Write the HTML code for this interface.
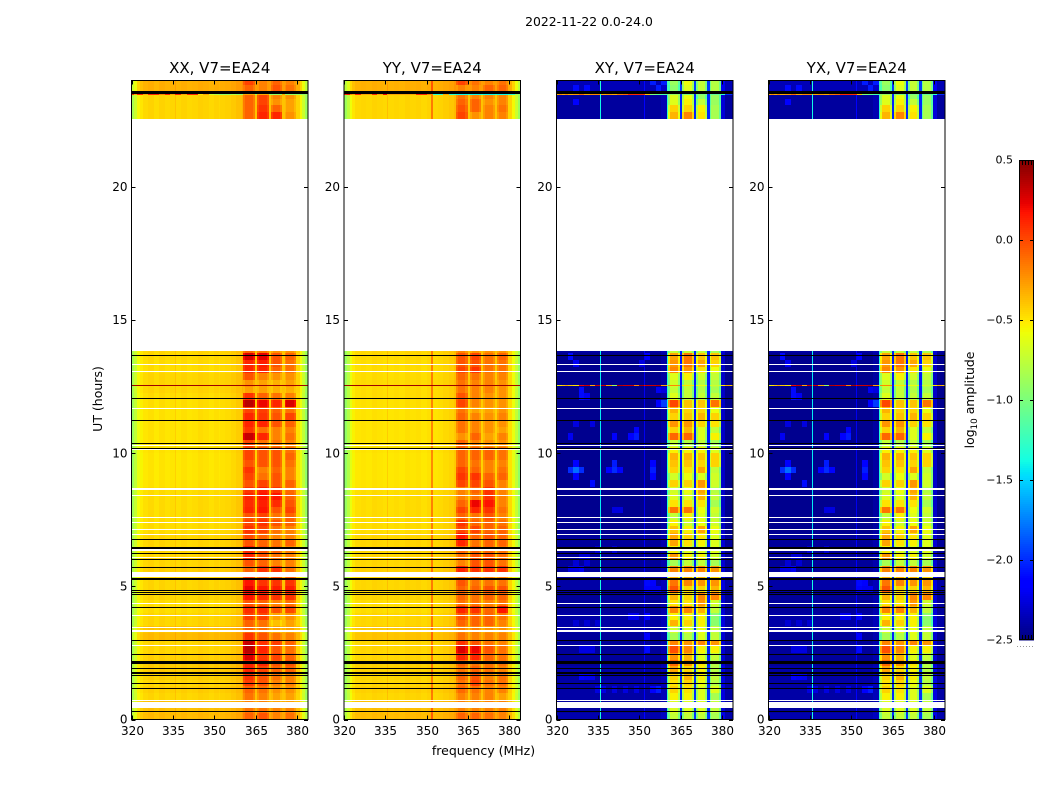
<!DOCTYPE html>
<html>
<head>
<meta charset="utf-8">
<title>2022-11-22 0.0-24.0</title>
<style>
html,body{margin:0;padding:0;background:#fff;}
svg{display:block;font-family:"DejaVu Sans","Liberation Sans",sans-serif;fill:#000;}
</style>
</head>
<body>
<svg id="chart" xmlns="http://www.w3.org/2000/svg" width="1050" height="800" viewBox="0 0 1050 800">
<text x="589" y="26" font-size="12.4" text-anchor="middle">2022-11-22 0.0-24.0</text>
<text x="483.5" y="755" font-size="12.5" text-anchor="middle">frequency (MHz)</text>
<text x="102" y="399" font-size="12.5" text-anchor="middle" transform="rotate(-90 102 399)">UT (hours)</text>
<text x="974" y="400" font-size="12.4" text-anchor="middle" transform="rotate(-90 974 400)">log<tspan font-size="8.8" dy="3">10</tspan><tspan dy="-3"> amplitude</tspan></text>
<g id="panels"></g>
<g id="colorbar"></g>
</svg>
<script>
// Axis ticks
const freqTicks = [320, 335, 350, 365, 380];
const timeTicks = [0, 5, 10, 15, 20];
const colorTicks = [0.5, 0.0, -0.5, -1.0, -1.5, -2.0, -2.5];
const colorTickLabels = ['0.5', '0.0', '\u22120.5', '\u22121.0', '\u22121.5', '\u22122.0', '\u22122.5'];

// Frequency channels (MHz); band: 0 = background, 1-4 = sub-bands
const channelStartMHz = [320,321,322,323,324,326,328,330,332,334,335.7,336.1,338,340,342,344,346,348,350,351.7,352.1,354,356,358,360,360.5,361.2,364,364.8,365.6,366.3,369,369.7,370.5,371.2,374,374.7,375.5,376.2,378.9,379.6,381,382,383];
const channelEndMHz = [321,322,323,324,326,328,330,332,334,335.7,336.1,338,340,342,344,346,348,350,351.7,352.1,354,356,358,360,360.5,361.2,364,364.8,365.6,366.3,369,369.7,370.5,371.2,374,374.7,375.5,376.2,378.9,379.6,381,382,383,384];
const channelBand = [0,0,0,0,0,0,0,0,0,0,0,0,0,0,0,0,0,0,0,0,0,0,0,0,0,1,1,1,0,2,2,2,0,3,3,3,0,4,4,4,0,0,0,0];

// Per-channel amplitude offsets relative to the row's value
const xxChannelOffset = [-.42,-.29,-.14,-.08,-.04,-.02,-.05,-.02,-.04,-.03,.03,-.04,-.02,-.04,-.03,-.01,-.02,-.04,-.02,-.04,-.02,-.01,.01,.04,.08,-.06,.02,-.06,.03,-.06,.02,-.06,.03,-.06,.02,-.06,.03,-.06,.02,-.06,-.02,-.14,-.29,-.46];
const yyChannelOffset = [-.46,-.34,-.16,-.08,-.04,-.03,-.04,-.02,-.03,-.04,.04,-.04,-.03,-.04,-.02,-.03,-.02,-.04,-.02,.26,-.03,-.02,0,.02,.06,-.06,.02,-.06,.03,-.06,.02,-.06,.03,-.06,.02,-.06,.03,-.06,.02,-.06,-.02,-.14,-.29,-.46];
const xyChannelOffset = [-.08,-.08,-.08,-.08,-.08,-.08,-.08,-.08,-.08,-.08,.95,-.08,-.08,-.08,-.08,-.08,-.08,-.08,-.08,.17,-.08,-.08,-.08,-.03,1.05,-.2,.06,-.2,.32,-.2,.06,-.2,.32,-.2,.06,-.2,.32,-.2,.06,-.2,.07,-.08,-.08,-.08];

// Time rows: [background, sub-band 1, 2, 3, 4] log10 amplitude
const rowStartUT = [0,.25,.5,.75,1,1.25,1.5,1.75,2,2.25,2.5,2.75,3,3.25,3.5,3.75,4,4.25,4.5,4.75,5,5.25,5.5,5.75,6,6.25,6.5,6.75,7,7.25,7.5,7.75,8,8.25,8.5,8.75,9,9.25,9.5,9.75,10,10.25,10.5,10.75,11,11.25,11.5,11.75,12,12.25,12.5,12.75,13,13.25,13.5,13.75,22.57,22.82,23.07,23.32,23.57,23.82];
const rowEndUT = [.25,.5,.75,1,1.25,1.5,1.75,2,2.25,2.5,2.75,3,3.25,3.5,3.75,4,4.25,4.5,4.75,5,5.25,5.5,5.75,6,6.25,6.5,6.75,7,7.25,7.5,7.75,8,8.25,8.5,8.75,9,9.25,9.5,9.75,10,10.25,10.5,10.75,11,11.25,11.5,11.75,12,12.25,12.5,12.75,13,13.25,13.5,13.75,13.84,22.82,23.07,23.32,23.57,23.82,24];

const xxRows = [
[-.33,-.1,-.05,-.2,-.15],[-.35,-.15,-.15,-.2,-.2],[-.35,-.2,-.2,-.3,-.3],[-.42,-.15,-.2,-.3,-.3],[-.4,-.1,-.15,-.25,-.25],[-.42,.02,-.05,-.2,-.2],[-.4,.05,-.05,-.15,-.2],[-.38,.1,0,-.1,-.1],[-.38,.1,.1,-.05,-.05],[-.4,.25,.05,0,-.1],[-.42,.33,.1,-.05,-.15],[-.42,.3,.05,.02,-.1],
[-.33,.05,-.05,-.15,-.2],[-.36,-.1,-.15,-.3,-.3],[-.42,-.1,-.15,-.4,-.3],[-.42,.02,0,-.3,-.25],[-.44,.08,.08,-.05,-.02],[-.44,-.05,-.1,-.2,-.15],[-.42,.15,.1,.05,.05],[-.42,.2,.15,.12,.12],[-.42,.15,.05,.05,.05],[-.42,0,-.1,-.05,-.1],[-.4,-.1,.05,.05,-.15],[-.42,-.05,-.1,-.2,-.2],
[-.42,.1,-.05,-.15,-.2],[-.42,.1,-.05,-.1,-.2],[-.42,-.05,-.1,-.15,-.1],[-.42,-.02,-.1,-.2,-.2],[-.44,.05,0,-.15,-.2],[-.44,0,.05,-.05,-.1],[-.44,-.05,0,-.15,-.1],[-.44,.1,.15,-.05,0],[-.44,.08,.12,.08,-.05],[-.44,.1,.15,.15,-.1],[-.44,.05,.12,.05,-.12],[-.46,-.05,0,-.05,-.1],
[-.47,0,-.15,-.05,-.2],[-.47,.05,-.2,-.1,-.2],[-.47,-.05,-.05,-.05,-.15],[-.47,0,-.05,-.05,-.1],[-.46,0,-.05,-.05,-.15],[-.46,0,-.15,-.15,-.2],[-.46,.3,.1,-.2,-.15],[-.46,.05,-.15,-.2,-.2],[-.46,.1,.1,-.05,-.1],[-.46,.1,.05,-.05,0],[-.46,0,.02,-.1,-.15],[-.45,.33,.2,.1,.25],
[-.44,.05,-.1,-.15,-.2],[-.42,-.3,-.3,-.35,-.35],[-.42,-.25,-.3,-.35,-.3],[-.42,-.05,-.2,-.25,-.25],[-.44,.1,.1,-.1,-.15],[-.44,.1,.12,-.05,-.15],[-.43,.25,.22,-.05,-.1],[-.42,-.1,-.15,-.25,-.25],
[-.42,-.1,.1,.1,-.25],[-.42,-.1,.05,-.1,-.3],[-.42,-.1,0,-.25,-.3],[-.42,-.1,0,-.2,-.25],[-.3,-.1,-.2,-.05,-.15],[-.3,0,-.2,-.1,-.2]
];
const yyRows = [
[-.33,-.1,-.1,-.15,-.2],[-.35,-.2,-.2,-.2,-.2],[-.35,-.2,-.2,-.2,-.2],[-.42,-.2,-.2,-.2,-.3],[-.4,-.12,-.15,-.2,-.2],[-.42,-.15,0,-.15,-.15],[-.42,-.1,-.05,-.2,-.15],[-.4,-.15,-.1,-.15,-.2],[-.4,-.1,-.15,-.15,-.15],[-.42,.1,.1,-.1,-.15],[-.42,.25,.2,-.05,-.15],[-.42,.05,-.05,-.15,-.2],
[-.36,-.15,-.2,-.2,-.2],[-.38,-.2,-.2,-.25,-.25],[-.42,-.1,-.1,-.1,-.2],[-.42,-.05,-.1,-.1,-.15],[-.44,.1,.05,-.1,.15],[-.44,-.15,-.15,-.2,-.15],[-.42,-.1,-.15,-.1,-.1],[-.42,-.1,-.1,-.05,-.05],[-.42,-.05,-.15,-.15,-.15],[-.42,-.2,-.15,-.2,-.2],[-.4,.1,.05,.05,.05],[-.42,-.2,-.05,-.05,-.15],
[-.42,-.15,-.05,-.05,-.15],[-.42,-.1,-.1,-.1,-.15],[-.42,.1,-.15,-.1,-.1],[-.42,.15,-.1,-.05,-.1],[-.44,0,0,-.1,-.1],[-.44,.05,-.1,-.1,-.15],[-.44,-.1,-.15,-.05,-.2],[-.44,0,.1,.05,-.15],[-.44,-.1,.2,.15,-.2],[-.44,-.2,-.15,.05,-.2],[-.44,-.2,-.1,.05,-.2],[-.46,0,0,-.05,-.2],
[-.47,.05,.05,-.1,-.1],[-.47,0,-.1,-.2,-.15],[-.47,-.1,-.15,-.2,-.2],[-.47,-.1,-.1,-.1,-.15],[-.46,-.1,-.1,-.1,-.15],[-.46,-.1,-.2,-.25,-.25],[-.46,-.25,-.1,-.3,-.2],[-.46,-.15,-.2,-.25,-.3],[-.46,-.15,-.2,-.25,-.25],[-.46,-.1,-.2,-.25,-.2],[-.46,-.15,-.3,-.3,-.25],[-.45,0,-.2,-.25,-.25],
[-.44,-.05,-.2,-.25,-.25],[-.44,-.15,-.2,-.2,-.25],[-.43,-.15,-.2,-.2,-.25],[-.44,-.1,-.15,-.2,-.2],[-.44,0,.05,-.15,-.15],[-.44,-.05,-.05,-.15,-.15],[-.43,-.05,0,-.15,-.1],[-.42,-.2,-.25,-.25,-.25],
[-.42,0,-.25,-.2,-.2],[-.42,-.05,-.1,-.2,-.15],[-.42,-.1,-.1,-.25,-.2],[-.42,-.15,-.2,-.2,-.2],[-.3,-.2,-.2,-.1,-.1],[-.3,0,-.15,-.2,-.15]
];
const xyRows = [
[-2.3,-.8,-.8,-.8,-.9],[-2.34,-.7,-.7,-.7,-.8],[-2.34,-.7,-.7,-.7,-.8],[-2.32,-.6,-.6,-.7,-.9],[-2.32,-.5,-.55,-.7,-.7],[-2.32,-.55,-.5,-.65,-.85],[-2.32,-.5,-.4,-.6,-.8],[-2.32,-.35,-.5,-.6,-.85],[-2.35,-.15,-.3,-.55,-.85],[-2.35,-.3,-.4,-.7,-.8],[-2.35,-.08,-.25,-.6,-.6],[-2.35,-.25,-.3,-.25,-.3],
[-2.35,-.9,-.85,-.7,-.8],[-2.32,-.75,-.7,-.65,-.8],[-2.32,-.4,-.5,-.6,-1],[-2.32,-.6,-.6,-.6,-1],[-2.35,-.25,-.25,-.4,-.8],[-2.35,-.55,-.55,-.3,-.75],[-2.35,-.4,-.5,-.25,-.25],[-2.32,-.1,-.5,-.5,-.4],[-2.32,-.2,-.25,-.3,-.3],[-2.32,-.4,-.4,-.4,-.5],[-2.35,-.25,-.25,-.25,-.3],[-2.35,-.9,-.8,-.8,-.9],
[-2.35,-.3,-.6,-.6,-.75],[-2.35,-.6,-.7,-.7,-.7],[-2.35,-.35,-.55,-.6,-.7],[-2.35,-.35,-.5,-.55,-.7],[-2.38,-.45,-.6,-.35,-.65],[-2.38,-.6,-.75,-.65,-.75],[-2.38,-.8,-.6,-.7,-.8],[-2.38,-.2,-.2,-.65,-.75],[-2.38,-.55,-.55,-.55,-.9],[-2.38,-.7,-.7,-.4,-.8],[-2.38,-.75,-.65,-.35,-.85],[-2.38,-.5,-.5,-.3,-.75],
[-2.38,-.75,-.65,-.7,-.75],[-2.38,-.5,-.55,-.35,-.8],[-2.38,-.45,-.45,-.5,-.5],[-2.38,-.4,-.4,-.45,-.5],[-2.38,-.6,-.6,-.6,-.7],[-2.38,-.8,-.85,-.8,-.9],[-2.38,-.15,-.15,-.7,-.6],[-2.38,-.5,-.4,-.7,-.8],[-2.38,-.3,-.3,-.5,-.55],[-2.38,-.5,-.45,-.4,-.5],[-2.38,-.4,-.5,-.5,-.65],[-2.38,-.05,-.45,-.45,-.2],
[-2.38,-.7,-.8,-.8,-.8],[-2.38,-.8,-.8,-.85,-.9],[-2.38,-.75,-.8,-.85,-.85],[-2.38,-.7,-.6,-.75,-.8],[-2.38,-.25,-.3,-.55,-.65],[-2.38,-.3,-.2,-.35,-.5],[-2.38,-.35,-.2,-.45,-.45],[-2.34,-.8,-.8,-.8,-.9],
[-2.34,-.4,-.25,-.55,-.9],[-2.34,-.5,-.5,-.6,-.9],[-2.34,-.7,-.6,-.8,-.95],[-2.34,-.7,-.65,-.95,-.95],[-2.28,-1,-.7,-.8,-.85],[-2.28,-.95,-.65,-.8,-.85]
];
const yxRows = xyRows;

// Faint blue patches in the cross-hand background: row index, channel index, level
const patchRow = [37,37,37,36,38,54,49,48,48,38,37,37,37,37,36,38,42,43,42,42,42,54,47,47,35,22,20,20,19,10,15,12,6,4,4,60,60,60,61,61,58,22,22,23,23,19,19,14,14,14,15,15,10,10,10,6,6,4,4,4,4,4,31,31,44,44,53,53,53,49,49,24,24,25,25];
const patchChannel = [5,4,6,5,5,4,6,6,7,13,13,12,14,21,21,21,17,17,16,13,4,20,23,22,8,6,20,21,20,20,20,20,6,22,21,5,7,22,21,23,5,4,5,5,7,21,22,5,7,9,16,17,6,7,8,7,8,9,11,13,15,17,13,14,5,8,5,18,19,22,23,6,7,9,13];
const patchLevel = [-1.8,-2,-2,-2.15,-2.15,-2.1,-2.1,-2.1,-2.2,-2.05,-2,-2.15,-2.15,-2.05,-2.15,-2.15,-2.05,-2.15,-2.15,-2.15,-2.2,-2.15,-1.95,-2.15,-2.1,-2.2,-2.1,-2.15,-2.15,-2.1,-2.15,-2.15,-2.15,-2.05,-2.15,-2.1,-2.1,-2.05,-2.05,-2.05,-2.15,-2.25,-2.25,-2.28,-2.28,-2.2,-2.2,-2.28,-2.28,-2.28,-2.22,-2.22,-2.25,-2.25,-2.25,-2.2,-2.22,-2.25,-2.25,-2.25,-2.25,-2.25,-2.25,-2.25,-2.25,-2.25,-2.2,-2.25,-2.25,-2.2,-2.25,-2.28,-2.28,-2.28,-2.28];

// Flagged times (UT hours and duration in hours)
const whiteFlagUT = [13.34,13.08,11.69,10.3,10.14,8.64,8.42,7.59,7.39,7.14,6.95,6.38,6.08,5.45,4.36,3.91,3.46,3.33,2.79,.71,.54];
const whiteFlagHours = [.04,.04,.04,.04,.04,.09,.04,.04,.04,.04,.04,.06,.04,.19,.04,.04,.04,.08,.04,.04,.22];
const blackFlagUT = [23.54,13.68,12.06,11.24,10.37,10.18,6.77,6.45,6.23,6.02,5.72,5.28,4.85,4.76,4.69,4.21,2.97,2.45,2.15,1.91,1.76,1.66,1.34,1.16,.29];
const blackFlagHours = [.13,.04,.04,.04,.04,.04,.04,.08,.04,.04,.04,.08,.04,.04,.04,.04,.04,.04,.12,.04,.08,.04,.04,.04,.04];

// Single noisy integrations, one value per channel
const spikeUT = [12.55, 23.48];
const xxSpikeLow = [.42,.42,.42,.42,.42,.42,.42,.42,.42,.42,.42,.42,.42,.42,.42,.42,.42,.42,.42,.42,.42,.42,.42,.42,.42,.42,.42,.42,.42,.42,.42,.42,.42,.42,.42,.42,.42,.42,.42,.42,.42,.42,.42,.42];
const xxSpikeTop = [.1,-.3,.1,.1,-.3,.1,.1,-.2,.1,-.3,.1,.1,-.3,.1,.1,-.5,-.3,-.7,-.8,-.9,-.9,-.9,-.8,-.9,-.9,-.3,-.3,-.3,-.9,-.3,-.3,-.3,-.9,-.9,-.9,-.9,-.3,-.9,-.9,-.9,-.9,-.9,-.9,-.9];
const yySpikeTop = [.1,.15,-.2,-.3,.1,-.3,-.3,.1,-.3,.2,-.3,-.3,-.3,-.3,-.3,-.3,.1,.1,-.2,-.2,-1.3,-1.3,-.3,-1.3,-1.3,-1.4,-1.4,-1.4,-1.3,-1.4,-1.4,-1.4,-1.3,-1.4,-1.4,-1.4,-1.3,-1.4,-1.4,-1.4,-1.3,-1.3,-.9,-.9];
const xySpikeLow = [-.6,-.5,-.4,-.3,-.4,-.5,.2,.3,-.3,.3,-1.2,.3,-.3,-.9,.35,.3,.3,-.2,.4,.2,.3,.3,.35,-.3,-.8,-.2,-.2,-.2,-2,-.5,-.5,-.5,-2,-.6,-.6,-.6,-2,-.7,-.7,-.7,-.5,-.3,-.3,-.4];
const xySpikeTop = [-.3,-.2,-.3,-.2,-.3,-.25,-.1,-.3,-.2,-.2,-1.3,-.3,-.25,-.3,-.15,-.1,.1,.1,.1,.05,-.4,-1,-1.1,-1.2,-1.2,-.9,-.9,-.9,-2,-1,-1,-1,-2,-1,-1,-1,-2,-1.1,-1.1,-1.1,-1.3,-2,-2,-2];

// Panels
const panelTitles = ['XX, V7=EA24', 'YY, V7=EA24', 'XY, V7=EA24', 'YX, V7=EA24'];
const panelLeftPx = [131.5, 344, 556.5, 768.5];
const panelRows = [xxRows, yyRows, xyRows, yxRows];
const panelOffsets = [xxChannelOffset, yyChannelOffset, xyChannelOffset, xyChannelOffset];
const panelSpikeLow = [xxSpikeLow, xxSpikeLow, xySpikeLow, xySpikeLow];
const panelSpikeTop = [xxSpikeTop, yySpikeTop, xySpikeTop, xySpikeTop];
const panelNames = ['xx', 'yy', 'xy', 'yx'];
const panelHasPatches = [false, false, true, true];

const NS = 'http://www.w3.org/2000/svg';
const PANEL_W = 176.5, TOP = 80.5, BOTTOM = 719.5;
const F_MIN = 320, F_MAX = 384, UT_MAX = 24;
const V_MIN = -2.5, V_MAX = 0.5;

function lerpStops(stops, t) {
  for (let i = 1; i < stops.length; i++) {
    if (t <= stops[i][0]) {
      const a = stops[i - 1], b = stops[i];
      return a[1] + (b[1] - a[1]) * (t - a[0]) / (b[0] - a[0]);
    }
  }
  return stops[stops.length - 1][1];
}
const R_STOPS = [[0,0],[.35,0],[.66,1],[.89,1],[1,.5]];
const G_STOPS = [[0,0],[.125,0],[.375,1],[.64,1],[.91,0],[1,0]];
const B_STOPS = [[0,.5],[.11,1],[.34,1],[.65,0],[1,0]];
function jet(v) {
  const t = Math.max(0, Math.min(1, (v - V_MIN) / (V_MAX - V_MIN)));
  const c = s => Math.round(255 * lerpStops(s, t));
  return 'rgb(' + c(R_STOPS) + ',' + c(G_STOPS) + ',' + c(B_STOPS) + ')';
}
function xScale(left, mhz) { return left + (mhz - F_MIN) / (F_MAX - F_MIN) * PANEL_W; }
function yScale(ut) { return BOTTOM - ut / UT_MAX * (BOTTOM - TOP); }
function make(tag, attrs, parent) {
  const el = document.createElementNS(NS, tag);
  for (const k in attrs) el.setAttribute(k, attrs[k]);
  parent.appendChild(el);
  return el;
}

const panelsGroup = document.getElementById('panels');
panelTitles.forEach((title, p) => {
  const left = panelLeftPx[p];
  const right = left + PANEL_W;
  const rows = panelRows[p];
  const offsets = panelOffsets[p];
  const g = make('g', {}, panelsGroup);
  
  
  const heat = make('g', { 'shape-rendering': 'crispEdges' }, g);
  
  

  const patches = {};
  if (panelHasPatches[p]) {
    patchRow.forEach((r, i) => { patches[r + ':' + patchChannel[i]] = patchLevel[i]; });
  }

  rowStartUT.forEach((startUT, r) => {
    const yTop = Math.round(yScale(rowEndUT[r]));
    const yBot = Math.round(yScale(startUT));
    channelStartMHz.forEach((startMHz, c) => {
      const xL = Math.round(xScale(left, startMHz));
      const xR = Math.max(xL + 1, Math.round(xScale(left, channelEndMHz[c])));
      const patch = patches[r + ':' + c];
      const value = (patch !== undefined) ? patch : rows[r][channelBand[c]] + offsets[c];
      const cell = make('rect', { x: xL, y: yTop, width: xR - xL, height: yBot - yTop, fill: jet(value) }, heat);
      
      
    });
  });

  whiteFlagUT.forEach((ut, i) => {
    const h = Math.max(1, Math.round(whiteFlagHours[i] / UT_MAX * (BOTTOM - TOP)));
    const line = make('rect', { x: left, y: Math.round(yScale(ut) - h / 2), width: PANEL_W, height: h, fill: '#fff' }, heat);
    
    
  });
  blackFlagUT.forEach((ut, i) => {
    const h = Math.max(1, Math.round(blackFlagHours[i] / UT_MAX * (BOTTOM - TOP)));
    const line = make('rect', { x: left, y: Math.round(yScale(ut) - h / 2), width: PANEL_W, height: h, fill: '#000' }, heat);
    
    
  });
  [panelSpikeLow[p], panelSpikeTop[p]].forEach((spike, s) => {
    channelStartMHz.forEach((startMHz, c) => {
      const xL = Math.round(xScale(left, startMHz));
      const xR = Math.max(xL + 1, Math.round(xScale(left, channelEndMHz[c])));
      const cell = make('rect', { x: xL, y: Math.round(yScale(spikeUT[s])), width: xR - xL, height: 1, fill: jet(spike[c]) }, heat);
      
      
    });
  });

  const frame = make('rect', { x: left, y: TOP, width: PANEL_W, height: BOTTOM - TOP, fill: 'none', stroke: '#000', 'stroke-width': 1 }, g);
  
  

  const t = make('text', { x: left + PANEL_W / 2, y: 73, 'font-size': 15, 'text-anchor': 'middle' }, g);
  t.textContent = title;
  
  

  freqTicks.forEach(f => {
    const x = Math.round(xScale(left, f)) + 0.5;
    const d = 'M' + x + ' ' + BOTTOM + 'v-4M' + x + ' ' + TOP + 'v4';
    const tick = make('path', { d: d, stroke: '#000', 'stroke-width': 1, fill: 'none' }, g);
    
    
    const lab = make('text', { x: x, y: 735, 'font-size': 12, 'text-anchor': 'middle' }, g);
    lab.textContent = String(f);
    
    
  });
  timeTicks.forEach(u => {
    const y = Math.round(yScale(u)) + 0.5;
    const d = 'M' + left + ' ' + y + 'h4M' + right + ' ' + y + 'h-4';
    const tick = make('path', { d: d, stroke: '#000', 'stroke-width': 1, fill: 'none' }, g);
    
    
    const lab = make('text', { x: left - 4, y: yScale(u) + 4, 'font-size': 12, 'text-anchor': 'end' }, g);
    lab.textContent = String(u);
    
    
  });
});

// Colorbar
const CB_L = 1019, CB_R = 1034, CB_T = 160, CB_B = 640;
const cbGroup = document.getElementById('colorbar');
function cbY(v) { return CB_B - (v - V_MIN) / (V_MAX - V_MIN) * (CB_B - CB_T); }
for (let y = CB_T; y < CB_B; y += 2) {
  const strip = make('rect', { x: CB_L, y: y, width: CB_R - CB_L, height: 2.5, fill: jet(V_MAX - (y + 1 - CB_T) / (CB_B - CB_T) * (V_MAX - V_MIN)), 'shape-rendering': 'crispEdges' }, cbGroup);
  
  
}
const cbFrame = make('rect', { x: CB_L + .5, y: CB_T + .5, width: CB_R - CB_L - 1, height: CB_B - CB_T - 1, fill: 'none', stroke: '#000', 'stroke-width': 1 }, cbGroup);


colorTicks.forEach((v, i) => {
  const y = Math.round(cbY(v)) + (i === colorTicks.length - 1 ? -.5 : .5);
  if (i > 0 && i < colorTicks.length - 1) {
    const tick = make('path', { d: 'M' + CB_L + ' ' + y + 'h4M' + CB_R + ' ' + y + 'h-4', stroke: '#000', 'stroke-width': 1 }, cbGroup);
    
    
  }
  const lab = make('text', { x: 1013, y: cbY(v) + 3.5, 'font-size': 11, 'text-anchor': 'end' }, cbGroup);
  lab.textContent = colorTickLabels[i];
  
  
});
[1022, 1025, 1028, 1031].forEach(x => {
  const mark = make('path', { d: 'M' + (x + .5) + ' ' + CB_T + 'v5M' + (x + .5) + ' ' + CB_B + 'v-5', stroke: '#000', 'stroke-width': 1 }, cbGroup);
  
  
});
const dots = make('path', { d: 'M1017 646.5H1035', stroke: '#999', 'stroke-width': 1, 'stroke-dasharray': '1 2' }, cbGroup);


</script>
</body>
</html>
